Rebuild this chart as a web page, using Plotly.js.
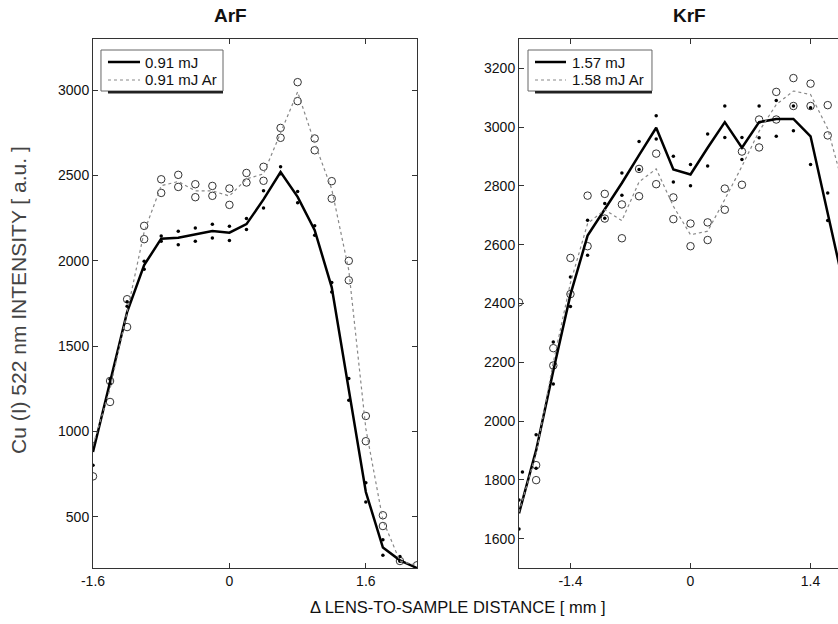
<!DOCTYPE html>
<html>
<head>
<meta charset="utf-8">
<script src="https://cdn.plot.ly/plotly-3.0.1.min.js"></script>
<style>html,body{margin:0;padding:0;background:#fff;overflow:hidden}#chart{width:838px;height:624px}</style>
</head>
<body>
<div id="chart"></div>
<script>
// ---------- ArF panel ----------
const arfLineX = [-1.6,-1.4,-1.2,-1.0,-0.8,-0.6,-0.4,-0.2,0,0.2,0.4,0.6,0.8,1.0,1.2,1.4,1.6,1.8,2.0,2.2];
const arfLine091 = [880,1290,1700,1975,2130,2135,2155,2175,2165,2215,2360,2520,2375,2180,1845,1245,645,320,245,200];
const arfLine091Ar = [920,1250,1700,2170,2440,2465,2410,2410,2380,2480,2510,2750,2990,2690,2420,1945,1017,480,240,215];

const arfDotX = [-1.6,-1.6,-1.4,-1.4,-1.2,-1.2,-1.0,-1.0,-0.8,-0.8,-0.6,-0.6,-0.4,-0.4,-0.2,-0.2,0,0,0.2,0.2,0.4,0.4,0.6,0.6,0.8,0.8,1.0,1.0,1.2,1.2,1.4,1.4,1.6,1.6,1.8,1.8,2.0,2.0];
const arfDotY = [802,929,1306,1280,1734,1760,1998,1951,2146,2115,2173,2095,2193,2115,2214,2134,2203,2119,2248,2183,2410,2310,2551,2510,2406,2341,2205,2150,1873,1818,1310,1183,700,587,366,274,268,240];

const arfCircX = [-1.6,-1.4,-1.4,-1.2,-1.2,-1.0,-1.0,-0.8,-0.8,-0.6,-0.6,-0.4,-0.4,-0.2,-0.2,0,0,0.2,0.2,0.4,0.4,0.6,0.6,0.8,0.8,1.0,1.0,1.2,1.2,1.4,1.4,1.6,1.6,1.8,1.8,2.0,2.2];
const arfCircY = [737,1296,1173,1775,1612,2205,2127,2478,2398,2504,2433,2449,2373,2439,2381,2424,2328,2515,2459,2551,2469,2779,2721,3047,2936,2717,2648,2467,2365,2000,1886,1091,943,509,446,241,216];

// ---------- KrF panel ----------
const krfLineX = [-2.0,-1.8,-1.6,-1.4,-1.2,-1.0,-0.8,-0.6,-0.4,-0.2,0,0.2,0.4,0.6,0.8,1.0,1.2,1.4,1.6,1.8];
const krfLine157 = [1686,1901,2171,2430,2631,2720,2810,2905,2998,2856,2839,2930,3017,2930,3017,3028,3028,2969,2705,2445];
const krfLine158Ar = [1690,1890,2200,2470,2672,2719,2682,2814,2858,2731,2634,2646,2754,2867,2986,3077,3123,3111,2995,2780];

const krfDotX = [-2.0,-2.0,-1.96,-1.8,-1.8,-1.6,-1.6,-1.4,-1.4,-1.2,-1.2,-1.0,-1.0,-0.8,-0.8,-0.6,-0.6,-0.4,-0.4,-0.2,-0.2,0,0,0.2,0.2,0.4,0.4,0.6,0.6,0.8,0.8,1.0,1.0,1.2,1.2,1.4,1.4,1.6,1.6];
const krfDotY = [1731,1633,1827,1953,1839,2269,2126,2490,2390,2683,2564,2740,2690,2844,2768,2951,2856,3039,2960,2901,2813,2873,2801,2977,2868,3072,2965,2965,2890,3072,2964,3091,2969,3072,2988,3066,2873,2776,2682];

const krfCircX = [-2.0,-1.8,-1.8,-1.6,-1.6,-1.4,-1.4,-1.2,-1.2,-1.0,-1.0,-0.8,-0.8,-0.6,-0.6,-0.4,-0.4,-0.2,-0.2,0,0,0.2,0.2,0.4,0.4,0.6,0.6,0.8,0.8,1.0,1.0,1.2,1.2,1.4,1.4,1.6,1.6];
const krfCircY = [2404,1850,1799,2248,2189,2555,2432,2767,2595,2773,2689,2737,2622,2858,2765,2910,2806,2761,2687,2672,2595,2676,2616,2791,2719,2917,2804,3026,2931,3120,3026,3167,3072,3148,3072,3075,2972];

// ---------- labels ----------
const panelTitles = ['ArF','KrF'];
const legendNames = ['0.91 mJ','0.91 mJ Ar','1.57 mJ','1.58 mJ Ar'];
const arfXTicks = [-1.6, 0, 1.6];
const arfYTicks = [500,1000,1500,2000,2500,3000];
const krfXTicks = [-1.4, 0, 1.4];
const krfYTicks = [1600,1800,2000,2200,2400,2600,2800,3000,3200];
const yTitle = 'Cu (I) 522 nm INTENSITY [ a.u. ]';
const xTitle = '\u0394 LENS-TO-SAMPLE DISTANCE [ mm ]';

const FONT = 'Arial, "Liberation Sans", Helvetica, sans-serif';
const circStyle = {symbol:'circle-open', size:7.5, color:'#333', line:{width:1, color:'#333'}};
const dotStyle = {symbol:'circle', size:3.5, color:'#000'};
const solidLine = {color:'#000', width:2.5};
const dotLine = {color:'#888', width:1.2, dash:'dot'};

const traces = [
  {x:arfCircX, y:arfCircY, type:'scatter', mode:'markers', marker:circStyle, showlegend:false, xaxis:'x', yaxis:'y'},
  {x:arfDotX, y:arfDotY, type:'scatter', mode:'markers', marker:dotStyle, showlegend:false, xaxis:'x', yaxis:'y'},
  {x:arfLineX, y:arfLine091, type:'scatter', mode:'lines', name:legendNames[0], line:solidLine, showlegend:false, xaxis:'x', yaxis:'y'},
  {x:arfLineX, y:arfLine091Ar, type:'scatter', mode:'lines', name:legendNames[1], line:dotLine, showlegend:false, xaxis:'x', yaxis:'y'},

  {x:krfCircX, y:krfCircY, type:'scatter', mode:'markers', marker:circStyle, showlegend:false, xaxis:'x2', yaxis:'y2'},
  {x:krfDotX, y:krfDotY, type:'scatter', mode:'markers', marker:dotStyle, showlegend:false, xaxis:'x2', yaxis:'y2'},
  {x:krfLineX, y:krfLine157, type:'scatter', mode:'lines', name:legendNames[2], line:solidLine, showlegend:false, xaxis:'x2', yaxis:'y2'},
  {x:krfLineX, y:krfLine158Ar, type:'scatter', mode:'lines', name:legendNames[3], line:dotLine, showlegend:false, xaxis:'x2', yaxis:'y2'}
];

const axBase = {showgrid:false, zeroline:false, showline:true, linecolor:'#333', linewidth:1,
  ticks:'inside', ticklen:5, tickcolor:'#333', tickfont:{size:14, color:'#111', family:FONT}, fixedrange:true};

// manual legend boxes (paper coordinates)
function legendShapes(bx0, bx1, sx0, sx1) {
  return [
    {type:'rect', xref:'paper', yref:'paper', x0:bx0, x1:bx1, y0:0.9017, y1:0.9792, fillcolor:'#fff', line:{color:'#666', width:1}, layer:'above'},
    {type:'line', xref:'paper', yref:'paper', x0:sx0, x1:bx1, y0:0.8995, y1:0.8995, line:{color:'#222', width:2.5}, layer:'above'},
    {type:'line', xref:'paper', yref:'paper', x0:sx0, x1:sx1, y0:0.9565, y1:0.9565, line:{color:'#000', width:2.5}, layer:'above'},
    {type:'line', xref:'paper', yref:'paper', x0:sx0, x1:sx1, y0:0.9225, y1:0.9225, line:{color:'#888', width:1.2, dash:'dot'}, layer:'above'}
  ];
}
function legendText(tx, n1, n2) {
  const f = {size:15, family:FONT, color:'#111'};
  return [
    {text:n1, xref:'paper', yref:'paper', x:tx, y:0.9565, xanchor:'left', yanchor:'middle', showarrow:false, font:f},
    {text:n2, xref:'paper', yref:'paper', x:tx, y:0.9225, xanchor:'left', yanchor:'middle', showarrow:false, font:f}
  ];
}

const layout = {
  width:838, height:624,
  margin:{l:93, r:0, t:39, b:56},
  paper_bgcolor:'#fff', plot_bgcolor:'#fff',
  font:{family:FONT, color:'#111'},
  showlegend:false,
  xaxis: Object.assign({}, axBase, {domain:[0, 0.4349], range:[-1.6, 2.2], tickvals:arfXTicks, ticktext:arfXTicks.map(String), mirror:'ticks', anchor:'y'}),
  yaxis: Object.assign({}, axBase, {domain:[0,1], range:[200, 3300], tickvals:arfYTicks, mirror:'ticks', anchor:'x'}),
  xaxis2: Object.assign({}, axBase, {domain:[0.5718, 1], range:[-2.0, 1.72], tickvals:krfXTicks, ticktext:krfXTicks.map(String), mirror:'ticks', anchor:'y2'}),
  yaxis2: Object.assign({}, axBase, {domain:[0,1], range:[1500, 3300], tickvals:krfYTicks, mirror:false, anchor:'x2'}),
  shapes: legendShapes(0.0107, 0.1745, 0.0201, 0.0631).concat(legendShapes(0.5839, 0.7503, 0.5933, 0.6349)),
  annotations:[
    {text:'<b>'+panelTitles[0]+'</b>', xref:'paper', yref:'paper', x:0.184, y:1.045, xanchor:'center', yanchor:'middle', showarrow:false, font:{size:19, family:FONT, color:'#111'}},
    {text:'<b>'+panelTitles[1]+'</b>', xref:'paper', yref:'paper', x:0.801, y:1.045, xanchor:'center', yanchor:'middle', showarrow:false, font:{size:19, family:FONT, color:'#111'}},
    {text:yTitle, xref:'paper', yref:'paper', x:-0.1007, y:0.5066, xanchor:'center', yanchor:'middle', textangle:-90, showarrow:false, font:{size:21, family:FONT, color:'#444'}},
    {text:xTitle, xref:'paper', yref:'paper', x:0.49, y:-0.0737, xanchor:'center', yanchor:'middle', showarrow:false, font:{size:16.5, family:FONT, color:'#111'}}
  ].concat(legendText(0.0671, legendNames[0], legendNames[1])).concat(legendText(0.6409, legendNames[2], legendNames[3]))
};

Plotly.newPlot('chart', traces, layout, {displayModeBar:false, staticPlot:true});
</script>
</body>
</html>
